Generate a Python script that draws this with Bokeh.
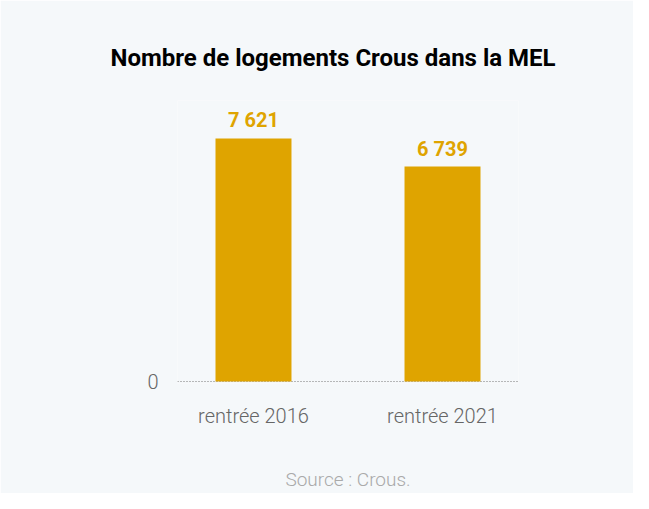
from bokeh.plotting import figure
from bokeh.models import ColumnDataSource, FactorRange, Range1d, FixedTicker
from bokeh.core.properties import value
from bokeh.embed import file_html
from bokeh.resources import INLINE

categories = ["rentrée 2016", "rentrée 2021"]
counts = [7621, 6739]
count_labels = ["7 621", "6 739"]
source_text = "Source : Crous."

BG = "#f5f8fa"
BAR = "#dfa400"

src = ColumnDataSource(dict(cat=categories, n=counts, lab=count_labels))

p = figure(width=633, height=493, output_backend="svg", toolbar_location=None,
           x_range=FactorRange(*categories, range_padding=-0.098),
           y_range=Range1d(-60, 8811),
           min_border_left=177, min_border_right=115, min_border_top=100,
           min_border_bottom=102)
p.background_fill_color = BG
p.border_fill_color = BG
p.outline_line_color = None

p.title.text = "Nombre de logements Crous dans la MEL"
p.title.align = "left"
p.title.offset = -67
p.title.text_font = "Roboto"
p.title.text_font_size = "24px"
p.title.text_font_style = "bold"
p.title.text_color = "#000000"
p.title.standoff = 58

p.vbar(x="cat", top="n", width=0.402, source=src, color=BAR, line_color=None)
p.text(x="cat", y="n", text="lab", source=src, text_align="center",
       text_baseline="bottom", y_offset=-6, text_font=value("Roboto"),
       text_font_size="20px", text_font_style="bold", text_color=BAR)

p.xgrid.grid_line_color = None
p.ygrid.ticker = FixedTicker(ticks=[0])
p.ygrid.grid_line_color = "#777777"
p.ygrid.grid_line_dash = "1 2"
p.ygrid.grid_line_width = 1

p.yaxis.ticker = FixedTicker(ticks=[0])
p.yaxis.axis_line_color = None
p.yaxis.major_tick_line_color = None
p.yaxis.minor_tick_line_color = None
p.yaxis.major_label_text_font = "Roboto Light, Roboto"
p.yaxis.major_label_text_font_size = "20px"
p.yaxis.major_label_text_color = "#666666"
p.yaxis.major_label_standoff = 13

p.xaxis.axis_line_color = None
p.xaxis.major_tick_line_color = None
p.xaxis.major_tick_out = 0
p.xaxis.major_label_text_font = "Roboto Light, Roboto"
p.xaxis.major_label_text_font_size = "20px"
p.xaxis.major_label_text_color = "#666666"
p.xaxis.major_label_standoff = 20

p.xaxis.axis_label = source_text
p.xaxis.axis_label_standoff = 37
p.xaxis.axis_label_text_font = "Roboto Light, Roboto"
p.xaxis.axis_label_text_font_size = "19px"
p.xaxis.axis_label_text_font_style = "normal"
p.xaxis.axis_label_text_color = "#aaaaaa"

open("out.html", "w").write(file_html(p, INLINE))
